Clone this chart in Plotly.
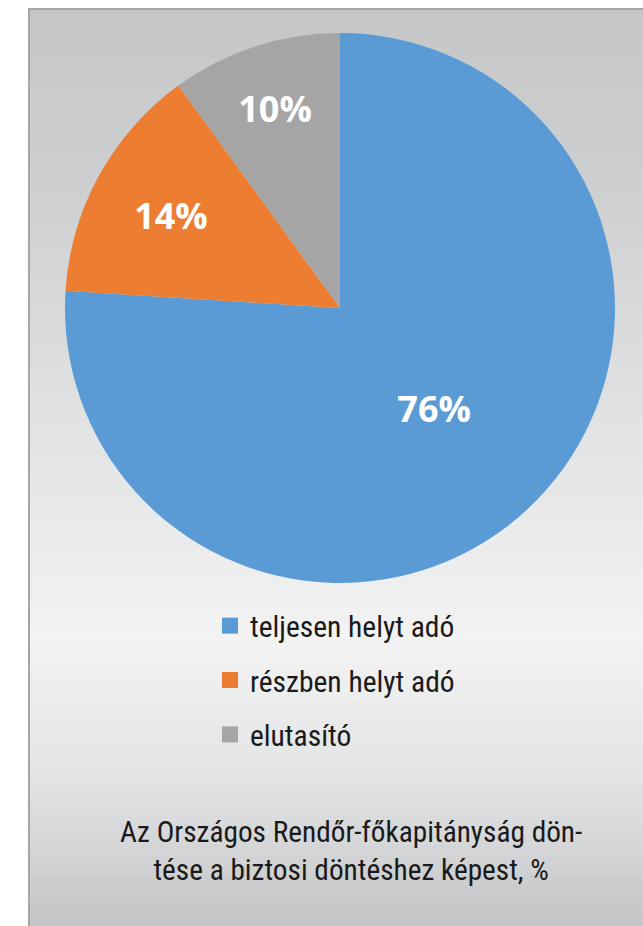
import plotly.graph_objects as go

categories = ["teljesen helyt adó", "részben helyt adó", "elutasító"]
values = [76, 14, 10]
colors = ["#5b9bd5", "#ed7d31", "#a5a5a5"]
caption_lines = ["Az Országos Rendőr-főkapitányság dön-", "tése a biztosi döntéshez képest, %"]

W, H = 643, 926
OFF = 0  # body margin removed via post_script
COND = "Roboto Condensed, Liberation Sans Narrow, Roboto, sans-serif"


def px(x):
    return (x - OFF) / W


def py(y):
    return 1 - (y - OFF) / H


fig = go.Figure()

cx, cy, r = 340, 308, 275
fig.add_trace(go.Pie(
    labels=categories, values=values, sort=False, direction="clockwise", rotation=0,
    marker=dict(colors=colors, line=dict(width=0)),
    texttemplate="%{percent:.0%}", textposition="inside", insidetextorientation="horizontal",
    textfont=dict(family="Open Sans, sans-serif", size=36, color="white", weight="bold"),
    showlegend=False, hoverinfo="label+percent",
    domain=dict(x=[px(cx - r), px(cx + r)], y=[py(cy + r), py(cy - r)]),
))

for i, (c, col) in enumerate(zip(categories, colors)):
    fig.add_trace(go.Scatter(
        x=[None], y=[None], mode="markers", name=c, legendgroup=str(i),
        marker=dict(symbol="square", size=16, color=col), showlegend=True,
    ))

# gradient panel background (screen y coords)
stops = [(8, (197, 198, 200)), (200, (207, 208, 210)), (450, (227, 228, 229)),
         (640, (243, 243, 243)), (780, (226, 227, 228)), (926, (196, 197, 199))]
shapes = []
N = 90
top, bot = 8, 926
for k in range(N):
    y0 = top + (bot - top) * k / N
    y1 = top + (bot - top) * (k + 1) / N
    ym = (y0 + y1) / 2
    for j in range(len(stops) - 1):
        if stops[j][0] <= ym <= stops[j + 1][0]:
            t = (ym - stops[j][0]) / (stops[j + 1][0] - stops[j][0])
            rgb = [round(a + (b - a) * t) for a, b in zip(stops[j][1], stops[j + 1][1])]
            break
    shapes.append(dict(type="rect", xref="paper", yref="paper", layer="below",
                       x0=px(28), x1=1.01, y0=py(y1) - 0.001, y1=py(y0),
                       fillcolor="rgb(%d,%d,%d)" % tuple(rgb), line=dict(width=0)))
shapes.append(dict(type="line", xref="paper", yref="paper", layer="below",
                   x0=px(29), x1=px(29), y0=-0.01, y1=py(9), line=dict(color="#a6a6a6", width=2)))
shapes.append(dict(type="line", xref="paper", yref="paper", layer="below",
                   x0=px(28), x1=1.01, y0=py(9), y1=py(9), line=dict(color="#a6a6a6", width=2)))

annotations = [dict(text="<br>".join(caption_lines), x=px(351), y=py(851), xref="paper", yref="paper",
                    xanchor="center", yanchor="middle", showarrow=False, align="center",
                    font=dict(family=COND, size=29.3, color="#1a1a1a"))]

fig.update_layout(
    width=W, height=H, margin=dict(l=0, r=0, t=0, b=0),
    paper_bgcolor="white", plot_bgcolor="rgba(0,0,0,0)",
    xaxis=dict(visible=False), yaxis=dict(visible=False),
    shapes=shapes,
    legend=dict(x=px(210), y=py(600), xanchor="left", yanchor="top",
                bgcolor="rgba(0,0,0,0)", font=dict(family=COND, size=29.5, color="#1a1a1a"),
                tracegroupgap=13, itemclick=False, itemdoubleclick=False),
    annotations=annotations,
)

fig.write_html("out.html", config={"displayModeBar": False},
               post_script="document.body.style.margin='0';document.body.style.overflow='hidden';")
